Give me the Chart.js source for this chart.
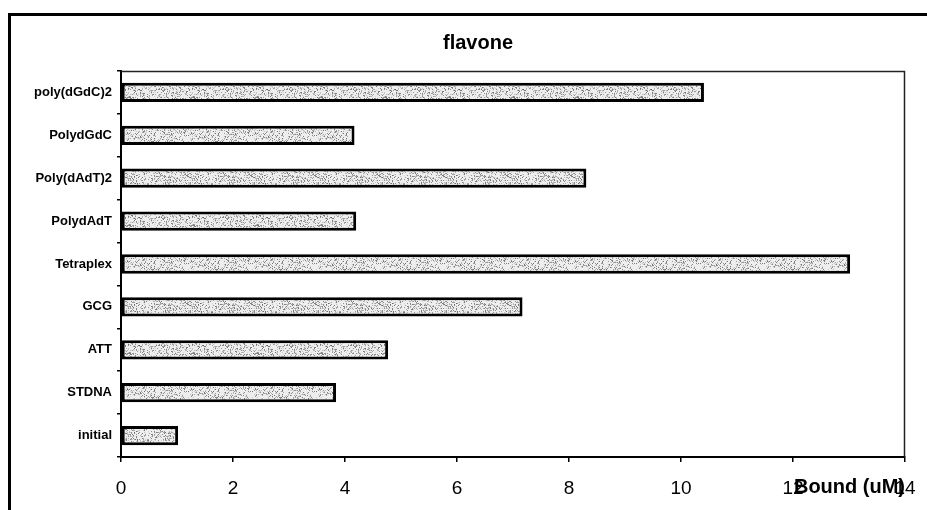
<!DOCTYPE html>
<html>
<head>
<meta charset="utf-8">
<script src="https://cdn.jsdelivr.net/npm/chart.js@4"></script>
<style>
  html, body { margin: 0; padding: 0; background: #fff; }
  #wrap { width: 927px; height: 510px; position: relative; }
</style>
</head>
<body>
<div id="wrap"><canvas id="c" width="927" height="510"></canvas></div>
<script>
const categories = ["poly(dGdC)2", "PolydGdC", "Poly(dAdT)2", "PolydAdT", "Tetraplex", "GCG", "ATT", "STDNA", "initial"];
const boundValues = [10.41, 4.17, 8.31, 4.20, 13.02, 7.17, 4.77, 3.84, 1.02];
const xTickValues = [0, 2, 4, 6, 8, 10, 12, 14];
const chartTitle = "flavone";
const xAxisTitle = "Bound (uM)";

// stipple fill pattern (deterministic dither)
function makePattern() {
  const p = document.createElement('canvas');
  p.width = 64; p.height = 64;
  const g = p.getContext('2d');
  g.fillStyle = '#eeeeee';
  g.fillRect(0, 0, 64, 64);
  let s = 2463534242;
  function next() {
    s ^= s << 13; s >>>= 0;
    s ^= s >>> 17;
    s ^= s << 5; s >>>= 0;
    return s;
  }
  for (let i = 0; i < 1500; i++) {
    const x = next() % 64;
    const y = next() % 64;
    const shade = 110 + (next() % 110);
    g.fillStyle = 'rgb(' + shade + ',' + shade + ',' + shade + ')';
    g.fillRect(x, y, 1, 1);
  }
  return g.createPattern(p, 'repeat');
}

const framePlugin = {
  id: 'frame',
  beforeDraw(chart) {
    const ctx = chart.ctx;
    ctx.save();
    ctx.fillStyle = '#fff';
    ctx.fillRect(0, 0, chart.width, chart.height);
    ctx.strokeStyle = '#000';
    ctx.lineWidth = 3;
    ctx.beginPath();
    ctx.moveTo(9.5, chart.height);
    ctx.lineTo(9.5, 14.5);
    ctx.lineTo(chart.width, 14.5);
    ctx.stroke();
    ctx.fillStyle = '#000';
    ctx.font = 'bold 20px "Liberation Sans", Arial, sans-serif';
    ctx.textAlign = 'center';
    ctx.textBaseline = 'middle';
    ctx.fillText(chartTitle, 478, 43);
    ctx.restore();
  },
  afterDatasetsDraw(chart) {
    const a = chart.chartArea;
    const ctx = chart.ctx;
    ctx.save();
    ctx.strokeStyle = '#222';
    ctx.lineWidth = 1.5;
    ctx.beginPath();
    ctx.moveTo(a.left, a.top + 0.5);
    ctx.lineTo(a.right - 0.5, a.top + 0.5);
    ctx.lineTo(a.right - 0.5, a.bottom);
    ctx.stroke();
    ctx.restore();
  }
};

const ctx = document.getElementById('c').getContext('2d');
new Chart(ctx, {
  type: 'bar',
  data: {
    labels: categories,
    datasets: [{
      label: chartTitle,
      data: boundValues,
      backgroundColor: makePattern(),
      borderColor: '#000',
      borderWidth: 3,
      borderSkipped: false,
      categoryPercentage: 1,
      barPercentage: 0.45
    }]
  },
  options: {
    indexAxis: 'y',
    responsive: false,
    animation: false,
    layout: { padding: { left: 15, right: 22, top: 71, bottom: 0 } },
    plugins: {
      legend: { display: false },
      tooltip: { enabled: false },
      title: { display: false }
    },
    scales: {
      x: {
        type: 'linear',
        min: 0,
        max: 14,
        afterBuildTicks(scale) { scale.ticks = xTickValues.map(v => ({ value: v })); },
        afterFit(scale) {
          scale.height = 510 - 457;
          scale.paddingLeft = 0;
          scale.paddingRight = 0;
        },
        ticks: {
          color: '#000',
          padding: 15,
          maxRotation: 0,
          font: { family: '"Liberation Sans", Arial, sans-serif', size: 19 }
        },
        grid: { drawOnChartArea: false, drawTicks: true, tickLength: 5, color: '#000', lineWidth: 1.5 },
        border: { display: true, color: '#000', width: 2 },
        title: {
          display: true,
          text: xAxisTitle,
          align: 'end',
          color: '#000',
          font: { family: '"Liberation Sans", Arial, sans-serif', size: 20, weight: 'bold', lineHeight: 1.2 },
          padding: { top: 0, bottom: 11 }
        }
      },
      y: {
        type: 'category',
        afterFit(scale) {
          scale.width = 121 - 15;
          scale.paddingTop = 0;
          scale.paddingBottom = 0;
        },
        ticks: {
          color: '#000',
          padding: 5,
          font: { family: '"Liberation Sans", Arial, sans-serif', size: 13, weight: 'bold' }
        },
        grid: { offset: true, drawOnChartArea: false, drawTicks: true, tickLength: 4, color: '#000', lineWidth: 1.5 },
        border: { display: true, color: '#000', width: 2 }
      }
    }
  },
  plugins: [framePlugin]
});
</script>
</body>
</html>
